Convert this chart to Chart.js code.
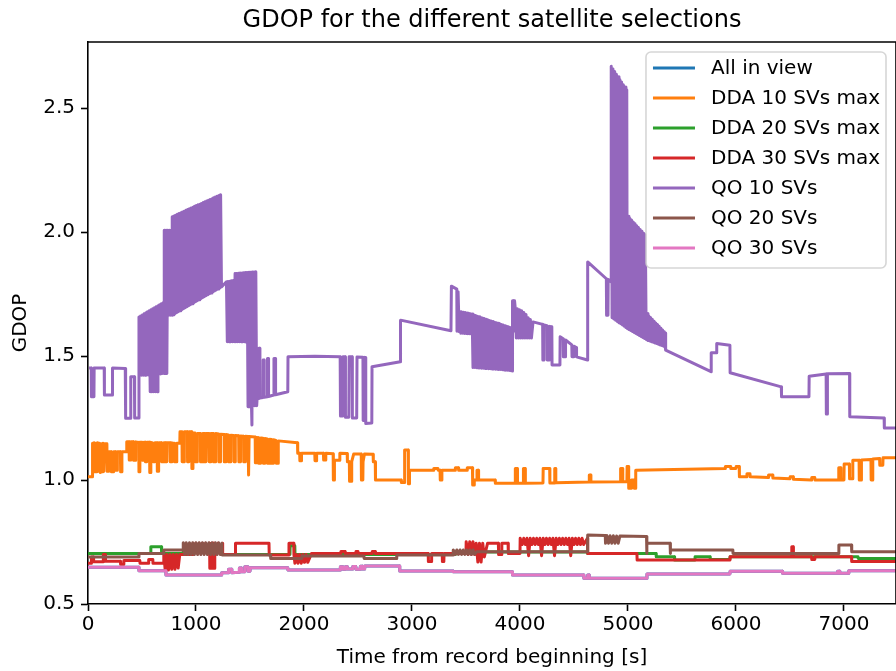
<!DOCTYPE html>
<html><head><meta charset="utf-8">
<script src="https://cdn.jsdelivr.net/npm/chart.js@4.4.1/dist/chart.umd.min.js"></script>
<style>html,body{margin:0;padding:0;background:#fff}canvas{display:block}</style>
</head><body>
<canvas id="c" width="896" height="671"></canvas>
<script>
const chartTitle = "GDOP for the different satellite selections";
const xLabel = "Time from record beginning [s]";
const yLabel = "GDOP";
const seriesNames = ["All in view","DDA 10 SVs max","DDA 20 SVs max","DDA 30 SVs max","QO 10 SVs","QO 20 SVs","QO 30 SVs"];
const seriesColors = ["#1f77b4","#ff7f0e","#2ca02c","#d62728","#9467bd","#8c564b","#e377c2"];
const xTicks = [0,1000,2000,3000,4000,5000,6000,7000];
const yTicks = [0.5,1.0,1.5,2.0,2.5];

// [time s, GDOP]
const qo30 = [[0,0.648],[470,0.648],[472,0.634],[720,0.634],[722,0.617],[1236,0.617],[1238,0.626],[1300,0.626],[1302,0.640],[1330,0.640],[1332,0.626],[1400,0.628],[1402,0.645],[1420,0.645],[1422,0.630],[1450,0.630],[1452,0.650],[1480,0.650],[1482,0.632],[1500,0.632],[1502,0.646],[1850,0.646],[1852,0.637],[2335,0.637],[2337,0.650],[2360,0.650],[2362,0.640],[2380,0.640],[2382,0.650],[2400,0.650],[2402,0.641],[2450,0.641],[2452,0.651],[2480,0.651],[2482,0.640],[2520,0.640],[2522,0.652],[2540,0.652],[2542,0.641],[2560,0.641],[2562,0.653],[2885,0.653],[2887,0.633],[3380,0.633],[3382,0.630],[3929,0.630],[3931,0.617],[4590,0.617],[4592,0.604],[4625,0.604],[4627,0.617],[4640,0.617],[4642,0.604],[5174,0.604],[5176,0.621],[5944,0.621],[5946,0.632],[6430,0.632],[6432,0.624],[6940,0.624],[6942,0.632],[6960,0.632],[6962,0.624],[7043,0.624],[7045,0.634],[7482,0.634]];

const allInView = qo30;

const dda10 = [[0,1.013],[40,1.013],[42,1.148],[50,1.035],[58,1.150],[66,1.033],[74,1.148],[82,1.033],[90,1.150],[98,1.035],[106,1.148],[114,1.030],[122,1.146],[130,1.033],[138,1.148],[146,1.035],[154,1.146],[175,1.146],[177,1.035],[190,1.035],[192,1.114],[215,1.114],[217,1.033],[235,1.033],[237,1.114],[255,1.114],[257,1.040],[270,1.040],[272,1.114],[300,1.114],[302,1.033],[312,1.033],[314,1.114],[357,1.114],[359,1.154],[380,1.154],[382,1.081],[395,1.081],[397,1.154],[420,1.154],[422,1.080],[440,1.080],[442,1.154],[470,1.152],[472,1.033],[480,1.033],[482,1.152],[500,1.152],[502,1.080],[515,1.080],[517,1.152],[530,1.152],[532,1.074],[545,1.074],[547,1.152],[570,1.152],[572,1.030],[580,1.030],[582,1.152],[600,1.150],[602,1.074],[620,1.074],[622,1.150],[640,1.150],[642,1.035],[652,1.035],[654,1.150],[680,1.150],[682,1.074],[700,1.074],[702,1.150],[720,1.150],[722,1.074],[730,1.074],[732,1.150],[760,1.150],[762,1.074],[775,1.074],[777,1.150],[800,1.148],[802,1.074],[820,1.074],[822,1.148],[850,1.148],[852,1.195],[870,1.195],[872,1.074],[890,1.074],[892,1.195],[920,1.195],[922,1.074],[935,1.074],[937,1.195],[960,1.195],[962,1.047],[970,1.047],[972,1.190],[990,1.190],[992,1.074],[1010,1.074],[1012,1.188],[1040,1.188],[1042,1.074],[1060,1.074],[1062,1.188],[1080,1.188],[1082,1.074],[1092,1.074],[1094,1.188],[1120,1.188],[1122,1.074],[1135,1.074],[1137,1.188],[1160,1.188],[1162,1.074],[1180,1.074],[1182,1.188],[1210,1.186],[1212,1.074],[1225,1.074],[1227,1.185],[1260,1.184],[1262,1.074],[1275,1.074],[1277,1.184],[1300,1.182],[1302,1.074],[1320,1.074],[1322,1.181],[1350,1.180],[1352,1.074],[1362,1.074],[1364,1.180],[1395,1.179],[1397,1.074],[1410,1.074],[1412,1.178],[1440,1.177],[1442,1.074],[1455,1.074],[1457,1.177],[1482,1.176],[1484,1.020],[1490,1.020],[1492,1.176],[1548,1.174],[1550,1.070],[1560,1.070],[1562,1.172],[1580,1.171],[1582,1.068],[1600,1.068],[1602,1.170],[1620,1.169],[1622,1.068],[1635,1.068],[1637,1.168],[1660,1.166],[1662,1.068],[1680,1.068],[1682,1.165],[1700,1.164],[1702,1.068],[1715,1.068],[1717,1.163],[1740,1.160],[1742,1.068],[1760,1.068],[1762,1.158],[1940,1.150],[1942,1.108],[1960,1.108],[1962,1.078],[1975,1.078],[1977,1.108],[2100,1.108],[2102,1.078],[2115,1.078],[2117,1.108],[2180,1.108],[2182,1.081],[2200,1.081],[2202,1.108],[2270,1.106],[2272,1.000],[2280,1.000],[2282,1.080],[2330,1.080],[2332,1.108],[2400,1.107],[2402,1.074],[2420,1.074],[2422,0.995],[2440,0.995],[2442,1.074],[2460,1.105],[2530,1.105],[2532,1.000],[2545,1.000],[2547,1.074],[2560,1.105],[2640,1.104],[2642,1.074],[2660,1.074],[2662,1.000],[2900,1.000],[2902,0.990],[2930,0.990],[2932,1.121],[2965,1.121],[2967,0.985],[2975,0.985],[2977,1.040],[3200,1.040],[3202,1.047],[3240,1.047],[3242,1.040],[3260,1.040],[3262,1.000],[3275,1.000],[3277,1.040],[3400,1.040],[3402,1.050],[3430,1.050],[3432,1.040],[3510,1.040],[3512,1.050],[3560,1.050],[3562,0.980],[3575,0.980],[3577,1.000],[3600,1.000],[3602,1.040],[3615,1.040],[3617,1.000],[3770,1.000],[3772,0.987],[3955,0.987],[3957,1.047],[3975,1.047],[3977,0.987],[4030,0.987],[4032,1.047],[4048,1.047],[4050,0.987],[4213,0.988],[4215,1.047],[4275,1.047],[4277,0.988],[4320,0.988],[4322,1.047],[4330,1.047],[4332,0.989],[4640,0.992],[4642,1.020],[4655,1.020],[4657,0.992],[4930,0.993],[4932,1.047],[4950,1.047],[4952,0.993],[4990,0.993],[4992,1.055],[5005,1.055],[5007,0.967],[5030,0.967],[5032,1.000],[5055,1.000],[5057,0.967],[5070,0.967],[5072,1.040],[5900,1.047],[5902,1.055],[5950,1.055],[5952,1.047],[6000,1.047],[6002,1.055],[6030,1.055],[6032,1.013],[6100,1.013],[6102,1.025],[6130,1.025],[6132,1.013],[6300,1.010],[6302,1.020],[6340,1.020],[6342,1.008],[6500,1.005],[6502,1.013],[6530,1.013],[6532,1.003],[6700,1.000],[6702,1.010],[6730,1.010],[6732,1.000],[6950,1.000],[6952,1.050],[6970,1.050],[6972,1.000],[7000,1.000],[7002,1.065],[7050,1.065],[7052,1.005],[7080,1.005],[7082,1.080],[7140,1.080],[7142,1.000],[7160,1.000],[7162,1.081],[7250,1.083],[7252,1.000],[7265,1.000],[7267,1.085],[7330,1.087],[7332,1.060],[7360,1.060],[7362,1.090],[7482,1.090]];

const dda20 = [[0,0.704],[580,0.704],[582,0.731],[680,0.731],[682,0.704],[880,0.704],[882,0.715],[1240,0.715],[1242,0.700],[1870,0.700],[1872,0.735],[1915,0.735],[1917,0.700],[3400,0.700],[3402,0.710],[4625,0.710],[4627,0.704],[5260,0.704],[5262,0.691],[5430,0.691],[5432,0.677],[5620,0.677],[5622,0.691],[5760,0.691],[5762,0.680],[5944,0.680],[5946,0.691],[7130,0.691],[7132,0.684],[7482,0.684]];

const dda30 = [[0,0.664],[30,0.664],[32,0.690],[50,0.690],[52,0.670],[140,0.670],[142,0.700],[160,0.700],[162,0.672],[300,0.672],[302,0.660],[330,0.660],[332,0.675],[480,0.675],[482,0.664],[560,0.664],[562,0.680],[600,0.680],[602,0.664],[700,0.664],[702,0.700],[715,0.637],[730,0.700],[745,0.637],[760,0.700],[775,0.640],[790,0.700],[805,0.640],[820,0.700],[835,0.645],[850,0.700],[970,0.700],[972,0.745],[985,0.705],[1000,0.745],[1015,0.705],[1030,0.745],[1045,0.705],[1060,0.745],[1075,0.705],[1090,0.745],[1105,0.705],[1126,0.745],[1128,0.644],[1140,0.644],[1142,0.745],[1160,0.745],[1162,0.644],[1172,0.644],[1174,0.745],[1190,0.705],[1205,0.745],[1220,0.705],[1245,0.745],[1247,0.700],[1364,0.700],[1366,0.745],[1676,0.745],[1678,0.698],[1859,0.698],[1861,0.745],[1905,0.745],[1907,0.698],[1916,0.664],[1930,0.700],[1945,0.664],[1960,0.700],[1975,0.664],[1990,0.700],[2005,0.668],[2020,0.700],[2035,0.668],[2070,0.704],[2340,0.704],[2342,0.712],[2380,0.712],[2382,0.704],[2480,0.704],[2482,0.712],[2500,0.712],[2502,0.704],[2630,0.704],[2632,0.712],[2660,0.712],[2662,0.704],[3150,0.704],[3152,0.671],[3180,0.671],[3182,0.704],[3280,0.704],[3282,0.671],[3295,0.671],[3297,0.704],[3500,0.704],[3502,0.751],[3520,0.700],[3535,0.751],[3550,0.700],[3565,0.751],[3580,0.700],[3595,0.745],[3610,0.669],[3625,0.745],[3640,0.669],[3655,0.745],[3670,0.690],[3700,0.745],[3800,0.745],[3802,0.700],[3830,0.700],[3832,0.745],[3890,0.745],[3892,0.704],[4000,0.704],[4002,0.765],[4020,0.740],[4035,0.765],[4050,0.740],[4065,0.765],[4080,0.695],[4095,0.765],[4110,0.740],[4125,0.765],[4140,0.740],[4155,0.765],[4170,0.740],[4185,0.765],[4200,0.695],[4215,0.765],[4230,0.740],[4245,0.765],[4260,0.740],[4275,0.765],[4290,0.740],[4305,0.765],[4320,0.695],[4335,0.765],[4350,0.740],[4365,0.765],[4380,0.740],[4395,0.765],[4410,0.740],[4425,0.765],[4440,0.740],[4455,0.765],[4470,0.695],[4485,0.765],[4500,0.740],[4515,0.765],[4530,0.740],[4545,0.765],[4560,0.740],[4575,0.765],[4590,0.740],[4625,0.765],[4627,0.704],[5083,0.704],[5085,0.677],[5944,0.677],[5946,0.691],[6515,0.691],[6517,0.731],[6530,0.731],[6532,0.691],[6700,0.691],[6702,0.680],[6730,0.680],[6732,0.691],[7070,0.691],[7072,0.671],[7482,0.671]];

const qo10 = [[10,1.452],[30,1.452],[32,1.336],[55,1.336],[57,1.452],[150,1.452],[152,1.343],[225,1.343],[227,1.452],[345,1.450],[347,1.417],[350,1.249],[394,1.249],[396,1.417],[430,1.417],[432,1.250],[470,1.250],
[472,1.658],[480,1.423],[488,1.662],[496,1.423],[504,1.666],[512,1.423],[520,1.671],[528,1.423],[536,1.675],[544,1.424],[552,1.679],[560,1.424],[568,1.683],[576,1.356],[584,1.687],[592,1.356],[600,1.691],[608,1.356],[616,1.695],[624,1.356],[632,1.699],[640,1.356],[648,1.703],[656,1.428],[664,1.707],[672,1.428],[680,1.711],[688,1.430],[696,1.715],[704,1.430],
[706,2.008],[714,1.430],[722,2.008],[730,1.430],[738,2.008],[746,1.665],[754,2.008],[762,1.665],[770,2.008],[778,1.665],
[780,2.062],[788,1.667],[796,2.065],[804,1.671],[812,2.068],[820,1.675],[828,2.072],[836,1.679],[844,2.075],[852,1.683],[860,2.078],[868,1.687],[876,2.081],[884,1.691],[892,2.084],[900,1.695],[908,2.088],[916,1.699],[924,2.091],[932,1.703],[940,2.094],[948,1.707],[956,2.097],[964,1.711],[972,2.100],[980,1.715],[988,2.104],[996,1.719],[1004,2.107],[1012,1.723],[1020,2.110],[1028,1.727],[1036,2.113],[1044,1.731],[1052,2.116],[1060,1.735],[1068,2.120],[1076,1.739],[1084,2.123],[1092,1.743],[1100,2.126],[1108,1.747],[1116,2.129],[1124,1.751],[1132,2.132],[1140,1.755],[1148,2.135],[1156,1.759],[1164,2.139],[1172,1.763],[1180,2.142],[1188,1.767],[1196,2.145],[1204,1.771],[1212,2.148],[1220,1.775],[1228,2.151],[1236,1.779],
[1260,1.790],[1282,1.800],[1290,1.558],[1298,1.801],[1306,1.558],[1314,1.802],[1322,1.558],[1330,1.804],[1338,1.558],[1346,1.805],[1354,1.558],
[1362,1.833],[1370,1.558],[1378,1.833],[1386,1.558],[1394,1.834],[1402,1.558],[1410,1.835],[1418,1.558],[1426,1.835],[1434,1.558],[1442,1.836],[1450,1.558],[1458,1.837],[1466,1.556],[1474,1.837],[1482,1.296],[1490,1.838],[1498,1.296],[1506,1.838],[1514,1.298],[1518,1.222],[1522,1.839],[1530,1.300],[1538,1.839],[1546,1.300],[1554,1.840],[1562,1.300],
[1566,1.329],[1580,1.329],[1582,1.532],[1590,1.532],[1592,1.331],[1620,1.333],[1622,1.484],[1630,1.484],[1632,1.334],[1660,1.336],[1662,1.490],[1670,1.490],[1672,1.337],[1720,1.343],[1722,1.490],[1735,1.490],[1737,1.344],[1850,1.356],[1852,1.497],[2100,1.499],[2335,1.497],[2338,1.258],[2360,1.258],[2363,1.497],[2381,1.497],[2384,1.253],[2415,1.253],[2418,1.497],[2445,1.497],[2448,1.250],[2488,1.250],[2491,1.496],[2546,1.495],[2548,1.240],[2560,1.240],[2562,1.495],[2570,1.494],[2572,1.228],[2628,1.230],[2630,1.457],[2892,1.477],[2894,1.645],[3361,1.602],[3365,1.782],[3415,1.770],[3417,1.600],[3425,1.600],[3427,1.760],[3435,1.760],[3437,1.598],
[3445,1.679],[3453,1.592],[3461,1.678],[3469,1.592],[3477,1.677],[3485,1.591],[3493,1.676],[3501,1.591],[3509,1.674],[3517,1.590],[3525,1.673],[3533,1.590],[3541,1.671],[3549,1.589],[3557,1.670],
[3565,1.454],[3573,1.666],[3581,1.454],[3589,1.664],[3597,1.453],[3605,1.661],[3613,1.452],[3621,1.659],[3629,1.452],[3637,1.656],[3645,1.451],[3653,1.654],[3661,1.451],[3669,1.652],[3677,1.450],[3685,1.649],[3693,1.450],[3701,1.647],[3709,1.449],[3717,1.644],[3725,1.449],[3733,1.642],[3741,1.448],[3749,1.640],[3757,1.448],[3765,1.637],[3773,1.447],[3781,1.635],[3789,1.447],[3797,1.632],[3805,1.446],[3813,1.630],[3821,1.446],[3829,1.627],[3837,1.445],[3845,1.625],[3853,1.444],[3861,1.622],[3869,1.443],[3877,1.620],[3885,1.443],[3893,1.618],[3901,1.442],[3909,1.615],[3917,1.441],[3925,1.612],[3929,1.440],
[3931,1.723],[3940,1.723],[3942,1.600],[3950,1.723],[3956,1.694],[3966,1.573],[3976,1.691],[3986,1.573],[3996,1.687],[4006,1.573],[4016,1.683],[4026,1.573],[4036,1.676],[4046,1.573],[4056,1.668],[4066,1.573],[4076,1.655],[4086,1.573],[4096,1.648],[4106,1.573],[4121,1.638],
[4210,1.628],[4212,1.484],[4220,1.484],[4222,1.626],[4250,1.623],[4252,1.484],[4270,1.484],[4272,1.620],[4295,1.618],[4297,1.464],[4370,1.464],[4372,1.578],[4400,1.570],[4402,1.497],[4420,1.497],[4422,1.565],[4480,1.545],[4482,1.497],[4500,1.497],[4502,1.540],[4520,1.535],[4524,1.497],[4625,1.484],[4627,1.880],[4800,1.812],[4802,1.665],[4815,1.665],[4817,1.809],[4843,1.800],
[4845,2.669],[4853,1.655],[4861,2.658],[4869,1.650],[4877,2.648],[4885,1.645],[4893,2.637],[4901,1.640],[4909,2.627],[4917,1.635],[4925,2.616],[4933,1.630],[4941,2.606],[4949,1.625],[4957,2.595],[4965,1.620],[4973,2.585],[4981,1.615],[4989,2.574],
[4993,1.611],[5001,2.064],[5009,1.607],[5017,2.056],[5025,1.603],[5033,2.049],[5041,1.599],[5049,2.041],[5057,1.595],[5065,2.034],[5073,1.591],[5081,2.026],[5089,1.587],[5097,2.019],[5105,1.583],[5113,2.011],[5121,1.579],[5129,2.004],[5137,1.575],[5145,1.996],[5153,1.571],[5161,1.989],[5169,1.567],
[5177,1.672],[5185,1.563],[5193,1.663],[5201,1.561],[5209,1.656],[5217,1.558],[5225,1.649],[5233,1.556],[5241,1.641],[5249,1.553],[5257,1.634],[5265,1.551],[5273,1.627],[5281,1.548],[5289,1.620],[5297,1.545],[5305,1.612],[5313,1.543],[5321,1.605],[5329,1.540],[5337,1.598],[5345,1.537],[5348,1.593],
[5350,1.524],[5769,1.437],[5771,1.513],[5820,1.513],[5822,1.551],[5944,1.544],[5946,1.433],[6420,1.376],[6422,1.336],[6676,1.336],[6678,1.419],[6835,1.428],[6837,1.266],[6845,1.266],[6847,1.429],[7052,1.430],[7054,1.255],[7372,1.250],[7374,1.210],[7482,1.210]];

const qo20 = [[0,0.690],[470,0.690],[472,0.704],[700,0.704],[702,0.718],[880,0.718],[882,0.747],[895,0.700],[910,0.747],[925,0.700],[940,0.747],[955,0.700],[970,0.747],[985,0.700],[1000,0.747],[1015,0.700],[1030,0.747],[1045,0.700],[1060,0.747],[1075,0.700],[1090,0.747],[1105,0.700],[1120,0.747],[1135,0.700],[1150,0.747],[1165,0.700],[1180,0.747],[1195,0.700],[1210,0.747],[1225,0.700],[1240,0.745],[1242,0.698],[1690,0.698],[1692,0.684],[1980,0.684],[1982,0.694],[2555,0.694],[2557,0.684],[2857,0.684],[2859,0.698],[3380,0.698],[3382,0.718],[3400,0.700],[3415,0.718],[3430,0.700],[3445,0.718],[3460,0.700],[3475,0.718],[3490,0.700],[3505,0.718],[3520,0.700],[3535,0.718],[3550,0.700],[3565,0.718],[3580,0.700],[3600,0.711],[4625,0.711],[4627,0.778],[4790,0.776],[4792,0.745],[4805,0.776],[4820,0.745],[4835,0.775],[4850,0.745],[4865,0.775],[4880,0.745],[4895,0.774],[4910,0.745],[4925,0.774],[5172,0.772],[5174,0.704],[5176,0.745],[5390,0.745],[5392,0.704],[5394,0.718],[5971,0.718],[5973,0.704],[6951,0.704],[6953,0.738],[7070,0.738],[7072,0.711],[7482,0.711]];

const seriesData = [allInView, dda10, dda20, dda30, qo10, qo20, qo30];

Chart.defaults.font.family = '"DejaVu Sans", sans-serif';
Chart.defaults.color = '#000';

const framePlugin = {
  id: 'mplFrame',
  afterDraw(chart) {
    const ctx = chart.ctx, ca = chart.chartArea;
    ctx.save();
    ctx.strokeStyle = '#000';
    ctx.lineWidth = 1.6;
    ctx.beginPath();
    ctx.moveTo(ca.left, ca.top);
    ctx.lineTo(ca.right, ca.top);
    ctx.lineTo(ca.right, ca.bottom);
    ctx.stroke();
    const fs = 20;
    ctx.font = fs + 'px "DejaVu Sans"';
    const maxW = Math.max(...seriesNames.map(n => ctx.measureText(n).width));
    const w = 7 + 42 + 16 + maxW + 6;
    const h = 216;
    const x0 = ca.right - 10 - w, y0 = ca.top + 10;
    const r = 5;
    ctx.beginPath();
    ctx.moveTo(x0 + r, y0);
    ctx.arcTo(x0 + w, y0, x0 + w, y0 + h, r);
    ctx.arcTo(x0 + w, y0 + h, x0, y0 + h, r);
    ctx.arcTo(x0, y0 + h, x0, y0, r);
    ctx.arcTo(x0, y0, x0 + w, y0, r);
    ctx.closePath();
    ctx.fillStyle = 'rgba(255,255,255,0.8)';
    ctx.fill();
    ctx.strokeStyle = 'rgba(204,204,204,0.8)';
    ctx.lineWidth = 1.6;
    ctx.stroke();
    ctx.textBaseline = 'middle';
    ctx.textAlign = 'left';
    seriesNames.forEach((name, i) => {
      const cy = y0 + 16 + i * 30;
      ctx.strokeStyle = seriesColors[i];
      ctx.lineWidth = 3;
      ctx.beginPath();
      ctx.moveTo(x0 + 7, cy);
      ctx.lineTo(x0 + 49, cy);
      ctx.stroke();
      ctx.fillStyle = '#000';
      ctx.fillText(name, x0 + 65, cy + 1);
    });
    ctx.restore();
  }
};

const fontN = {family: '"DejaVu Sans"', size: 20, weight: 'normal'};

new Chart(document.getElementById('c'), {
  type: 'line',
  data: {
    datasets: seriesNames.map((name, i) => ({
      label: name,
      data: seriesData[i].map(([x, y]) => ({x, y})),
      borderColor: seriesColors[i],
      backgroundColor: seriesColors[i],
      borderWidth: 3,
      pointRadius: 0,
      fill: false,
      tension: 0,
      borderJoinStyle: 'round',
      order: seriesNames.length - i
    }))
  },
  options: {
    responsive: false,
    animation: false,
    devicePixelRatio: 1,
    layout: {padding: {left: 0, right: -9, top: 0, bottom: 0}},
    plugins: {
      legend: {display: false},
      tooltip: {enabled: false},
      title: {
        display: true, text: chartTitle, fullSize: false, color: '#000',
        font: {family: '"DejaVu Sans"', size: 24, weight: 'normal'},
        padding: {top: 6, bottom: 7.2}
      }
    },
    scales: {
      x: {
        type: 'linear', min: 0, max: 7482,
        afterFit: s => { s.height = 67; },
        afterBuildTicks: s => { s.ticks = xTicks.map(v => ({value: v})); },
        ticks: {color: '#000', font: fontN, padding: 2, maxRotation: 0, autoSkip: false, callback: v => String(v)},
        grid: {display: true, drawOnChartArea: false, drawTicks: true, tickLength: 7, tickWidth: 1.6, tickColor: '#000'},
        border: {display: true, color: '#000', width: 1.6},
        title: {display: true, text: xLabel, color: '#000', font: fontN, padding: {top: 0, bottom: 1}}
      },
      y: {
        type: 'linear', min: 0.5, max: 2.767,
        afterFit: s => { s.width = 88; },
        afterBuildTicks: s => { s.ticks = yTicks.map(v => ({value: v})); },
        ticks: {color: '#000', font: fontN, padding: 6, callback: v => Number(v).toFixed(1)},
        grid: {display: true, drawOnChartArea: false, drawTicks: true, tickLength: 7, tickWidth: 1.6, tickColor: '#000'},
        border: {display: true, color: '#000', width: 1.6},
        title: {display: true, text: yLabel, color: '#000', font: fontN, padding: {top: 9, bottom: 0}}
      }
    }
  },
  plugins: [framePlugin]
});
</script>
</body></html>
